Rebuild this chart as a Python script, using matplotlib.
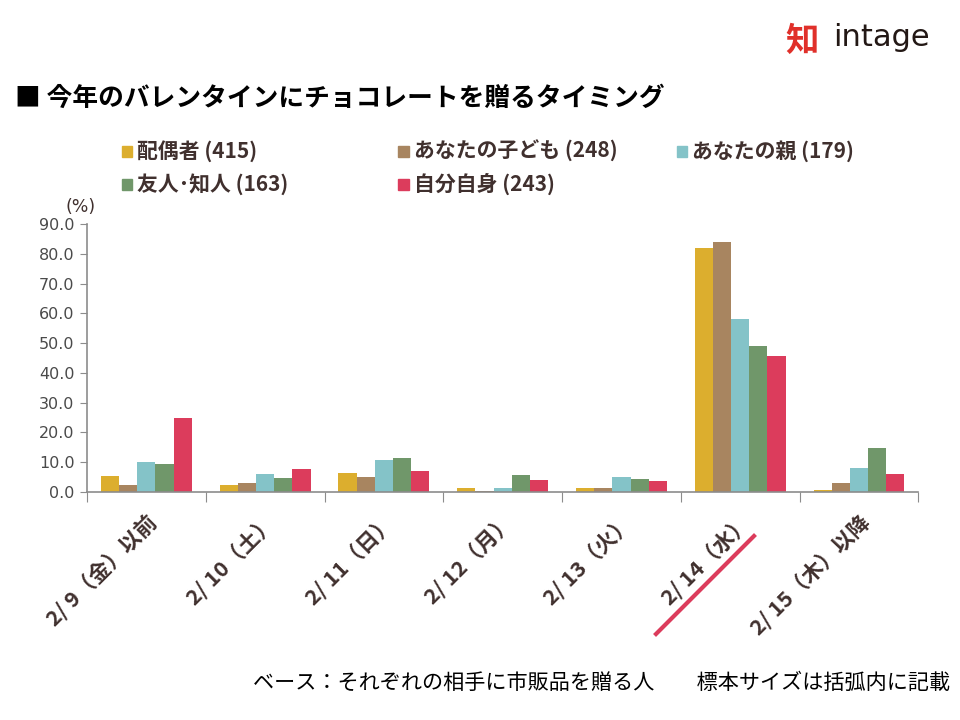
import numpy as np
import matplotlib.pyplot as plt
from matplotlib.lines import Line2D

plt.rcParams['font.family'] = ['Noto Sans CJK JP', 'DejaVu Sans']

categories = ['2/ 9（金）以前', '2/ 10（土）', '2/ 11（日）', '2/ 12（月）',
              '2/ 13（火）', '2/ 14（水）', '2/ 15（木）以降']
series_names = ['配偶者 (415)', 'あなたの子ども (248)', 'あなたの親 (179)',
                '友人･知人 (163)', '自分自身 (243)']
spouse = [5.5, 2.4, 6.5, 1.4, 1.4, 82.1, 0.7]
child = [2.4, 3.1, 5.1, 0.4, 1.4, 84.1, 3.1]
parent = [10.2, 6.1, 10.8, 1.4, 5.1, 58.2, 8.2]
friend = [9.5, 4.8, 11.5, 5.8, 4.5, 49.1, 14.9]
myself = [25.0, 7.8, 7.1, 4.1, 3.8, 45.8, 6.1]
yticks = [0, 10, 20, 30, 40, 50, 60, 70, 80, 90]

colors = ['#DCAE2E', '#A88560', '#84C3C8', '#70976A', '#DC3C5C']
txt = '#40302E'

fig = plt.figure(figsize=(9.6, 7.2), dpi=100)
ax = fig.add_axes([0.0906, 0.3167, 0.866, 0.3722])

x = np.arange(len(categories))
w = 0.153
data = [spouse, child, parent, friend, myself]
for i, (vals, c) in enumerate(zip(data, colors)):
    ax.bar(x + (i - 2) * w, vals, width=w, color=c, label=series_names[i])

ax.set_xlim(-0.5, len(categories) - 0.5)
ax.set_ylim(0, 90)
ax.set_yticks(yticks)
ax.set_yticklabels(['%.1f' % v for v in yticks], fontsize=11.5, color='#4a4a4a',
                   family=['DejaVu Sans'])
ax.tick_params(axis='y', length=5, color='#8c8c8c', pad=4)
ax.set_xticks(np.arange(-0.5, len(categories), 1.0))
ax.set_xticklabels([])
ax.set_xticks(x, minor=True)
ax.set_xticklabels(categories, minor=True, rotation=45, ha='right', va='top',
                   rotation_mode='anchor', fontsize=15.5, fontweight='bold', color=txt)
ax.tick_params(axis='x', which='major', length=7, color='#8c8c8c', direction='out')
ax.tick_params(axis='x', which='minor', length=0, pad=14)
for s in ['top', 'right']:
    ax.spines[s].set_visible(False)
for s in ['left', 'bottom']:
    ax.spines[s].set_color('#8c8c8c')
    ax.spines[s].set_linewidth(1.2)

fig.text(0.068, 0.712, '(%)', fontsize=12.5, color=txt, va='center',
         family=['DejaVu Sans'])

# legend (manual layout, two rows)
leg_pos = [(0.127, 0.790), (0.415, 0.790), (0.705, 0.790), (0.127, 0.744), (0.415, 0.744)]
for (lx, ly), name, c in zip(leg_pos, series_names, colors):
    fig.patches.append(plt.Rectangle((lx, ly - 0.008), 0.011, 0.015, color=c,
                                     transform=fig.transFigure))
    fig.text(lx + 0.016, ly, name, fontsize=15, fontweight='bold', color=txt, va='center')

fig.text(0.016, 0.864, '■ 今年のバレンタインにチョコレートを贈るタイミング',
         fontsize=18.5, fontweight='bold', color='black', va='center')

fig.text(0.99, 0.052, 'ベース：それぞれの相手に市販品を贈る人　　標本サイズは括弧内に記載',
         fontsize=15.2, color='black', ha='right', va='center')

# highlight line under 2/14
fig.lines.append(Line2D([656 / 960, 754 / 960], [1 - 634 / 720, 1 - 536 / 720],
                        color='#DC3C5C', linewidth=3, transform=fig.transFigure))

# logo
fig.text(0.818, 0.942, '知', fontsize=24, fontweight='bold', color='#E0302A',
         ha='left', va='center')
fig.text(0.868, 0.948, 'intage', fontsize=22, color='#231815', ha='left', va='center',
         family=['DejaVu Sans'])

fig.savefig('out.png', dpi=100)
